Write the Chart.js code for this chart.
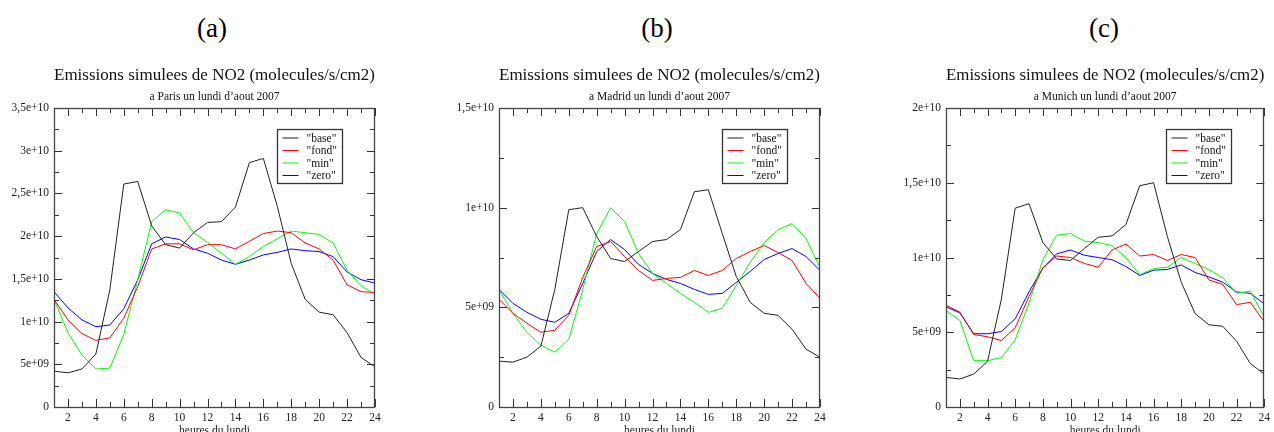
<!DOCTYPE html>
<html>
<head>
<meta charset="utf-8">
<title>Emissions simulees de NO2</title>
<script src="https://cdn.jsdelivr.net/npm/chart.js@4.4.0/dist/chart.umd.min.js"></script>
<style>
  body { margin: 0; width: 1274px; height: 432px; overflow: hidden; background: #fff; position: relative; }
  .lbl { position: absolute; top: 13px; width: 60px; text-align: center; font: 27px "Liberation Serif", "DejaVu Serif", serif; color: #000; }
  .pan { position: absolute; top: 40px; }
</style>
</head>
<body>
<div class="lbl" style="left:182px">(a)</div>
<div class="lbl" style="left:627px">(b)</div>
<div class="lbl" style="left:1074px">(c)</div>
<div class="pan" style="left:0px"><canvas id="cParis" width="420" height="400"></canvas></div>
<div class="pan" style="left:445px"><canvas id="cMadrid" width="420" height="400"></canvas></div>
<div class="pan" style="left:892px"><canvas id="cMunich" width="382" height="400"></canvas></div>
<script>
// heures du lundi
const hours = [1, 2, 3, 4, 5, 6, 7, 8, 9, 10, 11, 12, 13, 14, 15, 16, 17, 18, 19, 20, 21, 22, 23, 24];
const hourTicks = [2, 4, 6, 8, 10, 12, 14, 16, 18, 20, 22, 24];
const seriesNames = ['"base"', '"fond"', '"min"', '"zero"'];
const seriesColors = ['#222222', '#ff0000', '#00ff00', '#0000ff'];

// Paris
const parisBase = [4.2e9, 4.0e9, 4.45e9, 6.2e9, 1.37e10, 2.61e10, 2.64e10, 2.12e10, 1.90e10, 1.86e10, 2.04e10, 2.16e10, 2.17e10, 2.34e10, 2.86e10, 2.91e10, 2.35e10, 1.68e10, 1.26e10, 1.11e10, 1.08e10, 8.7e9, 5.8e9, 4.7e9];
const parisFond = [1.26e10, 1.02e10, 8.6e9, 7.8e9, 8.1e9, 1.04e10, 1.41e10, 1.85e10, 1.91e10, 1.91e10, 1.84e10, 1.90e10, 1.90e10, 1.85e10, 1.94e10, 2.03e10, 2.06e10, 2.04e10, 1.92e10, 1.85e10, 1.72e10, 1.43e10, 1.35e10, 1.34e10];
const parisMin = [1.26e10, 8.7e9, 6.1e9, 4.45e9, 4.55e9, 8.5e9, 1.49e10, 2.17e10, 2.31e10, 2.27e10, 2.04e10, 1.93e10, 1.80e10, 1.67e10, 1.76e10, 1.88e10, 1.97e10, 2.06e10, 2.04e10, 2.02e10, 1.92e10, 1.60e10, 1.42e10, 1.32e10];
const parisZero = [1.35e10, 1.16e10, 1.02e10, 9.4e9, 9.6e9, 1.15e10, 1.49e10, 1.91e10, 1.99e10, 1.96e10, 1.85e10, 1.80e10, 1.72e10, 1.67e10, 1.72e10, 1.78e10, 1.81e10, 1.85e10, 1.83e10, 1.82e10, 1.76e10, 1.58e10, 1.49e10, 1.45e10];
const parisYTicks = ['0', '5e+09', '1e+10', '1,5e+10', '2e+10', '2,5e+10', '3e+10', '3,5e+10'];

// Madrid
const madridBase = [2.3e9, 2.25e9, 2.5e9, 3.05e9, 5.9e9, 9.9e9, 1.0e10, 8.55e9, 7.45e9, 7.3e9, 7.8e9, 8.3e9, 8.4e9, 8.9e9, 1.08e10, 1.09e10, 8.7e9, 6.55e9, 5.25e9, 4.7e9, 4.6e9, 3.9e9, 2.9e9, 2.5e9];
const madridFond = [5.4e9, 4.7e9, 4.2e9, 3.75e9, 3.85e9, 4.6e9, 6.5e9, 8.05e9, 8.3e9, 7.55e9, 6.85e9, 6.35e9, 6.45e9, 6.5e9, 6.85e9, 6.6e9, 6.85e9, 7.45e9, 7.8e9, 8.1e9, 7.75e9, 7.35e9, 6.2e9, 5.45e9];
const madridMin = [5.9e9, 4.7e9, 3.75e9, 3.1e9, 2.75e9, 3.4e9, 5.9e9, 8.7e9, 1.0e10, 9.3e9, 7.7e9, 6.7e9, 6.2e9, 5.7e9, 5.25e9, 4.75e9, 4.95e9, 6.1e9, 7.25e9, 8.25e9, 8.9e9, 9.2e9, 8.45e9, 7.0e9];
const madridZero = [5.9e9, 5.2e9, 4.75e9, 4.4e9, 4.25e9, 4.7e9, 6.2e9, 7.8e9, 8.4e9, 7.9e9, 7.15e9, 6.7e9, 6.4e9, 6.2e9, 5.9e9, 5.65e9, 5.7e9, 6.25e9, 6.8e9, 7.4e9, 7.7e9, 7.95e9, 7.55e9, 6.85e9];
const madridYTicks = ['0', '5e+09', '1e+10', '1,5e+10'];

// Munich
const munichBase = [1.98e9, 1.87e9, 2.2e9, 3.05e9, 7.2e9, 1.33e10, 1.36e10, 1.10e10, 9.9e9, 9.8e9, 1.06e10, 1.135e10, 1.145e10, 1.22e10, 1.48e10, 1.50e10, 1.14e10, 8.35e9, 6.25e9, 5.5e9, 5.4e9, 4.4e9, 2.9e9, 2.2e9];
const munichFond = [6.8e9, 6.35e9, 4.85e9, 4.7e9, 4.45e9, 5.3e9, 7.4e9, 9.3e9, 1.01e10, 1.0e10, 9.6e9, 9.35e9, 1.05e10, 1.09e10, 1.01e10, 1.02e10, 9.8e9, 1.02e10, 1.0e10, 8.5e9, 8.2e9, 6.85e9, 7.0e9, 5.7e9];
const munichMin = [6.45e9, 5.8e9, 3.1e9, 3.1e9, 3.3e9, 4.5e9, 6.95e9, 9.85e9, 1.15e10, 1.16e10, 1.11e10, 1.10e10, 1.08e10, 1.0e10, 8.85e9, 9.25e9, 9.35e9, 1.0e10, 9.6e9, 9.2e9, 8.65e9, 7.6e9, 7.75e9, 6.0e9];
const munichZero = [6.7e9, 6.3e9, 4.9e9, 4.9e9, 5.05e9, 5.9e9, 7.7e9, 9.3e9, 1.025e10, 1.05e10, 1.015e10, 1.0e10, 9.85e9, 9.4e9, 8.8e9, 9.15e9, 9.2e9, 9.5e9, 9.0e9, 8.7e9, 8.35e9, 7.7e9, 7.6e9, 6.9e9];
const munichYTicks = ['0', '5e+09', '1e+10', '1,5e+10', '2e+10'];

const mainTitle = 'Emissions simulees de NO2 (molecules/s/cm2)';
const serif = '"Liberation Serif", "Times New Roman", serif';

// cadre, petites graduations vers l'interieur et legende encadree
const framePlugin = {
  id: 'frame',
  afterDatasetsDraw(chart) {
    const ctx = chart.ctx;
    const a = chart.chartArea;
    const xs = chart.scales.x;
    const ys = chart.scales.y;
    ctx.save();
    ctx.strokeStyle = '#333';
    ctx.lineWidth = 1;
    ctx.beginPath();
    // graduations x (toutes les heures, longues aux heures paires)
    hours.forEach(h => {
      const px = Math.round(xs.getPixelForValue(h)) + 0.5;
      const len = h % 2 === 0 ? 8 : 5;
      ctx.moveTo(px, a.bottom); ctx.lineTo(px, a.bottom - len);
      ctx.moveTo(px, a.top); ctx.lineTo(px, a.top + len);
    });
    // graduations y (majeures tous les 5e9, mineures a mi-chemin)
    const step = 2.5e9;
    for (let v = 0, i = 0; v <= ys.max + 1; v += step, i++) {
      const py = Math.round(ys.getPixelForValue(v)) + 0.5;
      const len = i % 2 === 0 ? 8 : 5;
      ctx.moveTo(a.left, py); ctx.lineTo(a.left + len, py);
      ctx.moveTo(a.right, py); ctx.lineTo(a.right - len, py);
    }
    ctx.stroke();
    ctx.lineWidth = 1.3;
    ctx.strokeStyle = '#444';
    ctx.strokeRect(Math.round(a.left) + 0.5, Math.round(a.top) + 0.5, Math.round(a.right - a.left) - 1, Math.round(a.bottom - a.top));

    // legende
    const bw = 65, bh = 54;
    const bx = Math.round(a.right - 33 - bw) + 0.5;
    const by = Math.round(a.top + 21) + 0.5;
    ctx.fillStyle = '#fff';
    ctx.fillRect(bx, by, bw, bh);
    ctx.strokeStyle = '#333';
    ctx.lineWidth = 1.3;
    ctx.strokeRect(bx, by, bw, bh);
    ctx.font = '11.5px ' + serif;
    ctx.textBaseline = 'middle';
    ctx.textAlign = 'left';
    chart.data.datasets.forEach((ds, i) => {
      const ry = by + 8.5 + i * 12.5;
      ctx.strokeStyle = ds.borderColor;
      ctx.lineWidth = 1;
      ctx.beginPath();
      ctx.moveTo(bx + 5, ry); ctx.lineTo(bx + 21, ry);
      ctx.stroke();
      ctx.fillStyle = '#111';
      ctx.fillText(ds.label, bx + 29, ry + 0.5);
    });
    ctx.restore();
  }
};

function makeChart(id, city, values, yMax, yTickLabels) {
  const ctx = document.getElementById(id).getContext('2d');
  const canvasW = ctx.canvas.width;
  return new Chart(ctx, {
    type: 'line',
    data: {
      labels: hours,
      datasets: seriesNames.map((name, i) => ({
        label: name,
        data: values[i],
        borderColor: seriesColors[i],
        backgroundColor: seriesColors[i],
        borderWidth: 1,
        pointRadius: 0,
        tension: 0,
        fill: false
      }))
    },
    options: {
      responsive: false,
      animation: false,
      layout: { padding: { left: 0, right: canvasW - 54 - 321, top: 0, bottom: 0 } },
      plugins: {
        legend: { display: false },
        tooltip: { enabled: false },
        title: {
          display: true,
          text: mainTitle,
          fullSize: false,
          color: '#111',
          font: { family: serif, size: 17.5, weight: 'normal' },
          padding: { top: 25, bottom: 3 }
        },
        subtitle: {
          display: true,
          text: 'a ' + city + ' un lundi d\u2019aout 2007',
          fullSize: false,
          color: '#111',
          font: { family: serif, size: 11.5, weight: 'normal' },
          padding: { top: 1, bottom: 4.2 }
        }
      },
      scales: {
        x: {
          type: 'linear',
          min: 1,
          max: 24,
          afterBuildTicks: s => { s.ticks = hourTicks.map(v => ({ value: v })); },
          afterFit: s => { s.height = 33; },
          grid: { display: false, drawTicks: false },
          border: { display: false },
          ticks: { color: '#222', font: { family: serif, size: 11.5 }, padding: 4, maxRotation: 0, autoSkip: false },
          title: { display: true, text: 'heures du lundi', color: '#222', font: { family: serif, size: 11.5 }, padding: { top: 0, bottom: 2 } }
        },
        y: {
          min: 0,
          max: yMax,
          afterBuildTicks: s => { s.ticks = yTickLabels.map((t, i) => ({ value: i * 5e9 })); },
          afterFit: s => { s.width = 54; },
          grid: { display: false, drawTicks: false },
          border: { display: false },
          ticks: {
            color: '#222',
            font: { family: serif, size: 11.5 },
            padding: 5,
            callback: (v, i) => yTickLabels[i]
          }
        }
      }
    },
    plugins: [framePlugin]
  });
}

makeChart('cParis', 'Paris', [parisBase, parisFond, parisMin, parisZero], 3.5e10, parisYTicks);
makeChart('cMadrid', 'Madrid', [madridBase, madridFond, madridMin, madridZero], 1.5e10, madridYTicks);
makeChart('cMunich', 'Munich', [munichBase, munichFond, munichMin, munichZero], 2e10, munichYTicks);
</script>
</body>
</html>
